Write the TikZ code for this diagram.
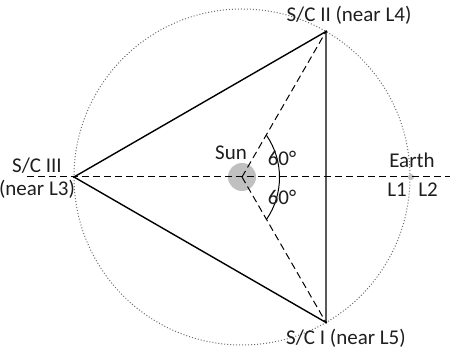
\documentclass[tikz,border=0pt]{standalone}
\usepackage{fontspec}
\setmainfont{Carlito}
\usetikzlibrary{calc}
\definecolor{SunGray}{RGB}{192,192,192}
\definecolor{OrbitGray}{RGB}{110,110,110}
\definecolor{TextGray}{RGB}{30,30,30}

\begin{document}
\begin{tikzpicture}[x=1pt,y=1pt,
  lbl/.style={font=\fontsize{21}{23}\selectfont,text=TextGray,inner sep=0pt},
  sc/.style={circle,fill=black,inner sep=0pt,minimum size=2.5pt},
  side/.style={line width=1.4pt},
  axis/.style={dash pattern=on 7pt off 4pt,line width=1pt},
]
\useasboundingbox (-242,-175) rectangle (212,177);
\draw[OrbitGray,dotted,line width=1pt] (0,0) circle (168);
\node[circle,fill=SunGray,minimum size=28pt,inner sep=0pt] (sun) at (0,0) {};
\node[circle,fill=SunGray,minimum size=6pt,inner sep=0pt] (earth) at (169,0) {};
\node[sc] (sc2) at (60:168) {};
\node[sc] (sc1) at (-60:168) {};
\node[sc] (sc3) at (180:168) {};
\coordinate (west) at (-215,0);
\coordinate (east) at (208,0);
\coordinate (a1) at (-60:49);
\draw[axis] (west) -- (east);
\draw[axis] (sun.center) -- (sc2);
\draw[axis] (sun.center) -- (sc1);
\draw[side] (sc3.center) -- (sc2.center) -- (sc1.center) -- cycle;
\draw[line width=1pt] (a1) arc[start angle=-34.4,end angle=34.4,radius=74.4];
\node[lbl] (sunlbl) at (-11,24) {Sun};
\node[lbl] (up) at (40,19) {60°};
\node[lbl] (down) at (40,-20) {60°};
\node[lbl] (earthlbl) at (170,17) {Earth};
\node[lbl] (l1) at (155,-13) {L1};
\node[lbl] (l2) at (186,-13) {L2};
\node[lbl] (sc2lbl) at (107,162) {S/C II (near L4)};
\node[lbl] (sc1lbl) at (104,-161) {S/C I (near L5)};
\node[lbl,align=center] (sc3lbl) at (-205,-1) {S/C III\\(near L3)};
\end{tikzpicture}
\end{document}
